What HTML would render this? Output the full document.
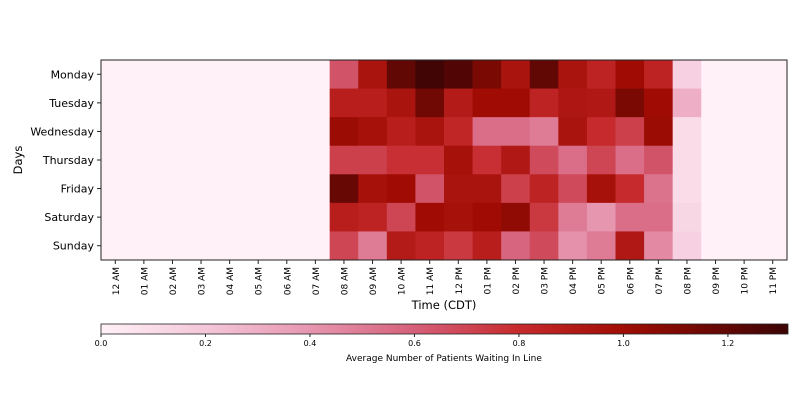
<!DOCTYPE html>
<html><head><meta charset="utf-8"><style>
body{margin:0;background:#fff;}
svg{display:block;font-family:"DejaVu Sans","Liberation Sans",sans-serif;}
</style></head><body>
<svg id="chart" width="800" height="400" xmlns="http://www.w3.org/2000/svg">
<defs>
<linearGradient id="cbgrad" x1="0" x2="1" y1="0" y2="0"></linearGradient>
</defs>
<g id="cells"></g>
<rect x="101" y="60" width="686" height="200" fill="none" stroke="#222" stroke-width="1"/>
<g id="yticks"></g>
<g id="xticks"></g>
<text x="22" y="160" font-size="11.5" text-anchor="middle" transform="rotate(-90 22 160)">Days</text>
<text x="444" y="309" font-size="11.5" text-anchor="middle">Time (CDT)</text>
<rect x="101" y="324" width="687" height="10" fill="url(#cbgrad)" stroke="#222" stroke-width="0.8"/>
<g id="cbticks"></g>
<text x="444" y="361" font-size="9" text-anchor="middle">Average Number of Patients Waiting In Line</text>
</svg>
<script>
const days = ["Monday","Tuesday","Wednesday","Thursday","Friday","Saturday","Sunday"];
const hours = ["12 AM","01 AM","02 AM","03 AM","04 AM","05 AM","06 AM","07 AM","08 AM","09 AM","10 AM","11 AM","12 PM","01 PM","02 PM","03 PM","04 PM","05 PM","06 PM","07 PM","08 PM","09 PM","10 PM","11 PM"];
// values for hours 08 AM..08 PM (others ~0)
const monday    = [0.65,0.95,1.2,1.3,1.25,1.12,0.95,1.2,0.95,0.85,1.0,0.85,0.15];
const tuesday   = [0.88,0.88,0.95,1.15,0.9,1.0,1.0,0.85,0.93,0.92,1.12,1.0,0.3];
const wednesday = [1.02,0.97,0.88,0.95,0.83,0.55,0.55,0.5,0.95,0.8,0.72,1.02,0.1];
const thursday  = [0.72,0.72,0.78,0.78,0.97,0.78,0.92,0.68,0.55,0.7,0.55,0.65,0.1];
const friday    = [1.18,0.97,1.0,0.65,0.95,0.95,0.72,0.85,0.68,0.97,0.8,0.53,0.1];
const saturday  = [0.88,0.85,0.7,1.0,0.97,1.0,1.05,0.75,0.5,0.4,0.55,0.55,0.12];
const sunday    = [0.7,0.5,0.9,0.85,0.75,0.88,0.58,0.68,0.42,0.5,0.92,0.45,0.15];
const firstActiveHour = 8;
const cbTicks = [0,0.2,0.4,0.6,0.8,1.0,1.2];
const vmax = 1.315;

const rows=[monday,tuesday,wednesday,thursday,friday,saturday,sunday];
const NS="http://www.w3.org/2000/svg";
const X0=101,X1=787,Y0=60,Y1=260;
const cw=(X1-X0)/hours.length, ch=(Y1-Y0)/days.length;
const stops=[[0,[255,241,247]],[0.2,[244,198,217]],[0.4,[231,150,176]],[0.6,[213,96,122]],[0.8,[198,42,44]],[1.0,[160,12,4]],[1.315,[60,5,5]]];
function color(v){
  v=Math.max(0,Math.min(vmax,v));
  for(let i=1;i<stops.length;i++){ if(v<=stops[i][0]){const a=stops[i-1],b=stops[i];const t=(v-a[0])/(b[0]-a[0]);
    const c=a[1].map((x,k)=>Math.round(x+(b[1][k]-x)*t));return `rgb(${c})`;}}
  return `rgb(${stops[stops.length-1][1]})`;
}
function el(t,attrs,parent){const e=document.createElementNS(NS,t);for(const k in attrs)e.setAttribute(k,attrs[k]);parent.appendChild(e);return e;}
const xS=i=>X0+i*cw, yS=j=>Y0+j*ch;
const cells=document.getElementById('cells');
rows.forEach((row,j)=>{
  for(let i=0;i<hours.length;i++){
    const k=i-firstActiveHour;
    const v=(k>=0&&k<row.length)?row[k]:0;
    const r=el('rect',{x:xS(i),y:yS(j),width:cw+0.4,height:ch+0.4,fill:color(v)},cells);
    
    
  }
});
const yt=document.getElementById('yticks');
days.forEach((d,j)=>{
  const y=yS(j)+ch/2;
  el('line',{x1:X0-4,x2:X0,y1:y,y2:y,stroke:'#222'},yt);
  const t=el('text',{x:X0-7,y:y+4,'font-size':11,'text-anchor':'end'},yt);
  t.textContent=d;
  
  
});
const xt=document.getElementById('xticks');
hours.forEach((h,i)=>{
  const x=xS(i)+cw/2;
  el('line',{x1:x,x2:x,y1:Y1,y2:Y1+4,stroke:'#222'},xt);
  const t=el('text',{x:x+3.5,y:Y1+7,'font-size':9,'text-anchor':'end',transform:`rotate(-90 ${x+3.5} ${Y1+7})`},xt);
  t.textContent=h;
  
  
});
const g=document.getElementById('cbgrad');
for(let s=0;s<=20;s++){const v=vmax*s/20;el('stop',{offset:(s/20),'stop-color':color(v)},g);}
const cb=document.getElementById('cbticks');
const cx=v=>101+v/vmax*687;
cbTicks.forEach(v=>{
  el('line',{x1:cx(v),x2:cx(v),y1:334,y2:337,stroke:'#222'},cb);
  const t=el('text',{x:cx(v),y:346,'font-size':8,'text-anchor':'middle'},cb);
  t.textContent=v.toFixed(1);
  
  
});
</script>
</body></html>
